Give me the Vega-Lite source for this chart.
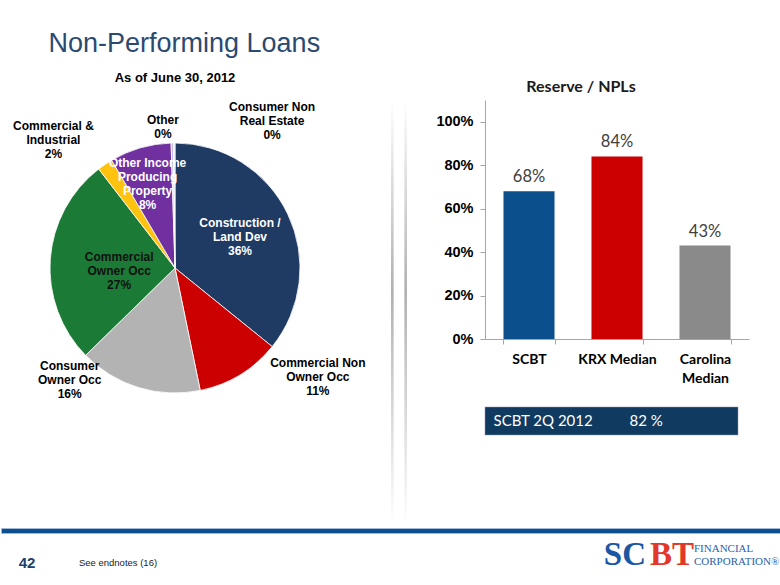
{
  "$schema": "https://vega.github.io/schema/vega-lite/v6.json",
  "background": "white",
  "padding": {"left": 0, "top": 30, "right": 0, "bottom": 0},
  "config": {"view": {"stroke": null}, "font": "Liberation Sans"},
  "title": {"text": "Non-Performing Loans", "anchor": "start", "dx": 48, "font": "Liberation Sans", "fontSize": 27, "fontWeight": "normal", "color": "#2b4a72", "offset": 14},
  "bounds": "flush",
  "spacing": 428,
  "resolve": {"scale": {"color": "independent"}},
  "vconcat": [
    {
      "bounds": "flush",
      "spacing": 0,
      "resolve": {"scale": {"color": "independent"}},
      "hconcat": [
        {
          "width": 348,
          "height": 336,
          "title": {"text": "As of June 30, 2012", "font": "Liberation Sans", "fontSize": 13, "fontWeight": "bold", "color": "#000000", "anchor": "middle", "frame": "group", "offset": 12},
          "data": {"values": [
            {"k": 1, "cat": "Construction / Land Dev", "pct": 36, "label": "Construction /\nLand Dev\n36%"},
            {"k": 2, "cat": "Commercial Non Owner Occ", "pct": 11, "label": "Commercial Non\nOwner Occ\n11%"},
            {"k": 3, "cat": "Consumer Owner Occ", "pct": 16, "label": "Consumer\nOwner Occ\n16%"},
            {"k": 4, "cat": "Commercial Owner Occ", "pct": 27, "label": "Commercial\nOwner Occ\n27%"},
            {"k": 5, "cat": "Commercial & Industrial", "pct": 2, "label": "Commercial &\nIndustrial\n2%"},
            {"k": 6, "cat": "Other Income Producing Property", "pct": 8, "label": "Other Income\nProducing\nProperty\n8%"},
            {"k": 7, "cat": "Other", "pct": 0.3, "label": "Other\n0%"},
            {"k": 8, "cat": "Consumer Non Real Estate", "pct": 0.2, "label": "Consumer Non\nReal Estate\n0%"}
          ]},
          "encoding": {
            "theta": {"field": "pct", "type": "quantitative", "stack": true},
            "order": {"field": "k", "type": "quantitative"},
            "detail": {"field": "cat", "type": "nominal"}
          },
          "layer": [
            {
              "mark": {"type": "arc", "radius": 125, "stroke": "#ffffff", "strokeWidth": 0.8},
              "encoding": {
                "color": {"field": "cat", "type": "nominal", "legend": null,
                  "scale": {
                    "domain": ["Construction / Land Dev", "Commercial Non Owner Occ", "Consumer Owner Occ", "Commercial Owner Occ", "Commercial & Industrial", "Other Income Producing Property", "Other", "Consumer Non Real Estate"],
                    "range": ["#1f3a63", "#cc0000", "#b3b3b3", "#1b7a36", "#ffc20e", "#7030a0", "#c4bce3", "#dfe6f2"]
                  }}
              }
            },
            {
              "mark": {"type": "text", "radius": 72, "dy": -14, "font": "Liberation Sans", "fontSize": 12, "fontWeight": "bold", "lineBreak": "\n", "lineHeight": 14, "color": "#ffffff", "align": "center", "baseline": "middle"},
              "encoding": {"text": {"condition": {"test": "datum.cat === 'Construction / Land Dev'", "field": "label"}, "value": ""}}
            },
            {
              "mark": {"type": "text", "radius": 140, "dx": 70, "dy": -25, "font": "Liberation Sans", "fontSize": 12, "fontWeight": "bold", "lineBreak": "\n", "lineHeight": 14, "color": "#000000", "align": "center", "baseline": "middle"},
              "encoding": {"text": {"condition": {"test": "datum.cat === 'Commercial Non Owner Occ'", "field": "label"}, "value": ""}}
            },
            {
              "mark": {"type": "text", "radius": 90, "dx": -79, "dy": 12, "font": "Liberation Sans", "fontSize": 12, "fontWeight": "bold", "lineBreak": "\n", "lineHeight": 14, "color": "#000000", "align": "center", "baseline": "middle"},
              "encoding": {"text": {"condition": {"test": "datum.cat === 'Consumer Owner Occ'", "field": "label"}, "value": ""}}
            },
            {
              "mark": {"type": "text", "radius": 56, "dy": -7, "font": "Liberation Sans", "fontSize": 12, "fontWeight": "bold", "lineBreak": "\n", "lineHeight": 14, "color": "#111111", "align": "center", "baseline": "middle"},
              "encoding": {"text": {"condition": {"test": "datum.cat === 'Commercial Owner Occ'", "field": "label"}, "value": ""}}
            },
            {
              "mark": {"type": "text", "radius": 110, "dx": -60, "dy": -51, "font": "Liberation Sans", "fontSize": 12, "fontWeight": "bold", "lineBreak": "\n", "lineHeight": 14, "color": "#000000", "align": "center", "baseline": "middle"},
              "encoding": {"text": {"condition": {"test": "datum.cat === 'Commercial & Industrial'", "field": "label"}, "value": ""}}
            },
            {
              "mark": {"type": "text", "radius": 88, "dx": -3, "dy": -20, "font": "Liberation Sans", "fontSize": 12, "fontWeight": "bold", "lineBreak": "\n", "lineHeight": 14, "color": "#ffffff", "align": "center", "baseline": "middle"},
              "encoding": {"text": {"condition": {"test": "datum.cat === 'Other Income Producing Property'", "field": "label"}, "value": ""}}
            },
            {
              "mark": {"type": "text", "radius": 141, "dx": -9, "dy": -7, "font": "Liberation Sans", "fontSize": 12, "fontWeight": "bold", "lineBreak": "\n", "lineHeight": 14, "color": "#000000", "align": "center", "baseline": "middle"},
              "encoding": {"text": {"condition": {"test": "datum.cat === 'Other'", "field": "label"}, "value": ""}}
            },
            {
              "mark": {"type": "text", "radius": 147, "dx": 98, "dy": -14, "font": "Liberation Sans", "fontSize": 12, "fontWeight": "bold", "lineBreak": "\n", "lineHeight": 14, "color": "#000000", "align": "center", "baseline": "middle"},
              "encoding": {"text": {"condition": {"test": "datum.cat === 'Consumer Non Real Estate'", "field": "label"}, "value": ""}}
            }
          ]
        },
        {
          "width": 42,
          "height": 10,
          "data": {"values": [{"t": ""}]},
          "mark": {"type": "text"},
          "encoding": {"text": {"field": "t"}}
        },
        {
          "width": 16,
          "height": 425,
          "data": {"values": [{"s": "a"}, {"s": "b"}]},
          "mark": {"type": "rect", "color": {"gradient": "linear", "x1": 0, "y1": 0, "x2": 0, "y2": 1, "stops": [{"offset": 0, "color": "#ffffff"}, {"offset": 0.45, "color": "#b0b0b0"}, {"offset": 1, "color": "#ffffff"}]}},
          "encoding": {"x": {"field": "s", "type": "nominal", "axis": null, "scale": {"paddingInner": 0.8, "paddingOuter": 0}}}
        },
        {
          "width": 78,
          "height": 10,
          "data": {"values": [{"t": ""}]},
          "mark": {"type": "text"},
          "encoding": {"text": {"field": "t"}}
        },
        {
          "bounds": "flush",
          "spacing": 68,
          "resolve": {"scale": {"color": "independent"}},
          "vconcat": [
            {
              "width": 264,
              "height": 239,
              "title": {"text": "Reserve / NPLs", "font": "Lato", "fontSize": 16, "fontWeight": "bold", "color": "#1a1a1a", "anchor": "middle", "frame": "group", "dx": -36, "offset": 5},
              "data": {"values": [
                {"name": "SCBT", "v": 0.68},
                {"name": "KRX Median", "v": 0.84},
                {"name": "Carolina Median", "v": 0.43}
              ]},
              "encoding": {
                "x": {"field": "name", "type": "nominal", "sort": null,
                  "scale": {"paddingInner": 0.42, "paddingOuter": 0.21},
                  "axis": {"title": null, "labelAngle": 0, "tickBand": "extent", "tickSize": 5, "domainColor": "#a6a6a6", "tickColor": "#a6a6a6", "labelFont": "Lato", "labelFontSize": 14, "labelFontWeight": "bold", "labelColor": "#000000", "labelPadding": 8, "labelLineHeight": 19, "labelExpr": "datum.label == 'Carolina Median' ? ['Carolina', 'Median'] : datum.label"}},
                "y": {"field": "v", "type": "quantitative",
                  "scale": {"domain": [0, 1.1], "nice": false},
                  "axis": {"title": null, "values": [0, 0.2, 0.4, 0.6, 0.8, 1], "format": ".0%", "grid": false, "domainColor": "#a6a6a6", "tickColor": "#a6a6a6", "tickSize": 5, "labelFont": "Liberation Sans", "labelFontSize": 14.5, "labelFontWeight": "bold", "labelColor": "#000000", "labelPadding": 7}}
              },
              "layer": [
                {
                  "mark": {"type": "bar"},
                  "encoding": {"color": {"field": "name", "type": "nominal", "legend": null,
                    "scale": {"domain": ["SCBT", "KRX Median", "Carolina Median"], "range": ["#0c4f8d", "#cc0000", "#8a8a8a"]}}}
                },
                {
                  "mark": {"type": "text", "font": "Lato", "fontSize": 16.5, "color": "#404040", "baseline": "alphabetic", "dy": -9},
                  "encoding": {"text": {"field": "v", "type": "quantitative", "format": ".0%"}}
                }
              ]
            },
            {
              "width": 253,
              "height": 28,
              "view": {"fill": "#113a60", "stroke": "#8a9bb0", "strokeWidth": 0.5},
              "data": {"values": [{"k": "a", "t": "SCBT 2Q 2012"}, {"k": "b", "t": "82 %"}]},
              "mark": {"type": "text", "font": "Lato", "fontSize": 15, "color": "#ffffff", "align": "left", "dx": -50},
              "encoding": {
                "x": {"field": "k", "type": "nominal", "axis": null, "scale": {"type": "point", "padding": 0.43}},
                "text": {"field": "t"}
              }
            }
          ]
        }
      ]
    },
    {
      "bounds": "flush",
      "spacing": 0,
      "vconcat": [
        {
          "width": 780,
          "height": 5,
          "view": {"fill": "#0b4f8e", "stroke": "#9dbbd9", "strokeWidth": 1},
          "data": {"values": [{"t": ""}]},
          "mark": {"type": "text"},
          "encoding": {"text": {"field": "t"}}
        },
        {
          "bounds": "flush",
          "spacing": 0,
          "hconcat": [
            {
              "width": 52,
              "height": 50,
              "data": {"values": [{"t": "42"}]},
              "mark": {"type": "text", "font": "Liberation Sans", "fontSize": 15, "fontWeight": "bold", "color": "#1c3f6e", "dy": 5},
              "encoding": {"text": {"field": "t"}}
            },
            {
              "width": 130,
              "height": 50,
              "data": {"values": [{"t": "See endnotes (16)"}]},
              "mark": {"type": "text", "font": "Liberation Sans", "fontSize": 9.5, "color": "#222222", "dy": 5},
              "encoding": {"text": {"field": "t"}}
            },
            {
              "width": 425,
              "height": 50,
              "data": {"values": [{"t": ""}]},
              "mark": {"type": "text"},
              "encoding": {"text": {"field": "t"}}
            },
            {
              "width": 80,
              "height": 50,
              "data": {"values": [{"a": "SC", "b": "BT"}]},
              "layer": [
                {
                  "mark": {"type": "text", "font": "Liberation Serif", "fontSize": 33, "fontWeight": "bold", "color": "#1b57a3", "align": "right", "dx": -2, "dy": -3},
                  "encoding": {"text": {"field": "a"}}
                },
                {
                  "mark": {"type": "text", "font": "Liberation Serif", "fontSize": 33, "fontWeight": "bold", "color": "#e2382a", "align": "left", "dx": 2, "dy": -3},
                  "encoding": {"text": {"field": "b"}}
                }
              ]
            },
            {
              "width": 88,
              "height": 50,
              "data": {"values": [{"t": "FINANCIAL\nCORPORATION®"}]},
              "mark": {"type": "text", "font": "Liberation Serif", "fontSize": 11, "color": "#2a62aa", "align": "left", "dx": -38, "dy": -9, "lineBreak": "\n", "lineHeight": 13},
              "encoding": {"text": {"field": "t"}}
            }
          ]
        }
      ]
    }
  ]
}
